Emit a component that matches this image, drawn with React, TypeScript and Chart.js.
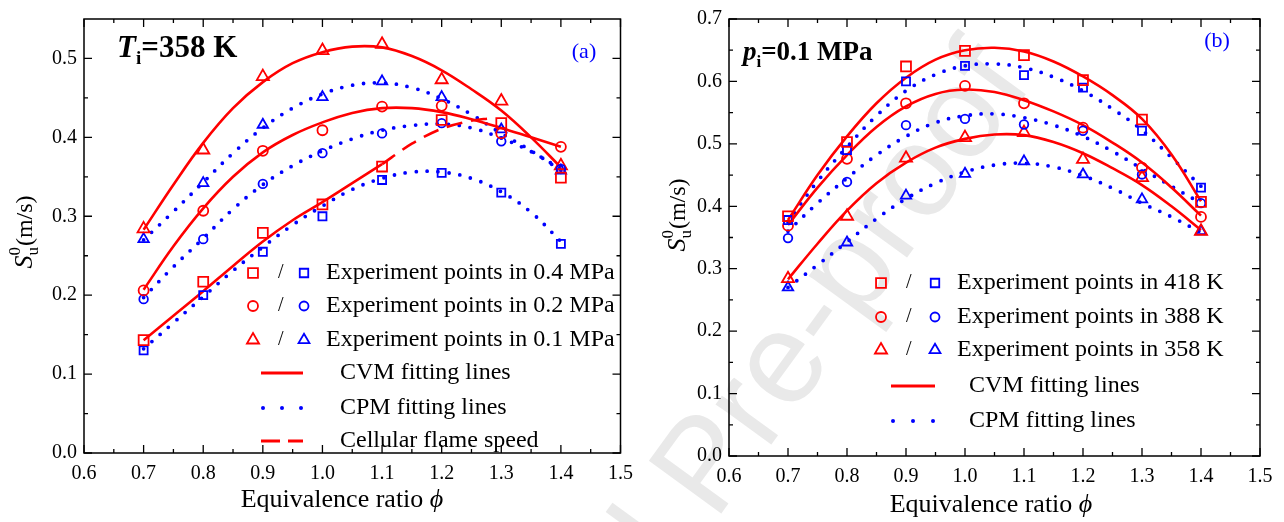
import React, { useEffect, useRef } from 'react';
import { Chart, registerables } from 'chart.js';

Chart.register(...registerables);

const SERIF = "'Liberation Serif', 'Times New Roman', Times, serif";
const RED = 'rgb(255,0,0)';
const BLUE = 'rgb(0,0,255)';

// ---------- shared x values ----------
const phiExp = [0.7, 0.8, 0.9, 1.0, 1.1, 1.2, 1.3, 1.4];
const phiFit = [0.7, 0.75, 0.8, 0.85, 0.9, 0.95, 1.0, 1.05, 1.1, 1.15, 1.2, 1.25, 1.3, 1.35, 1.4];
const phiFitLean = [0.7, 0.75, 0.8, 0.85, 0.9, 0.95, 1.0, 1.05, 1.1];
const phiCell = [1.1, 1.15, 1.2, 1.25, 1.28];

const xTicks = [0.6, 0.7, 0.8, 0.9, 1.0, 1.1, 1.2, 1.3, 1.4, 1.5];
const yTicksA = [0.0, 0.1, 0.2, 0.3, 0.4, 0.5];
const yTicksB = [0.0, 0.1, 0.2, 0.3, 0.4, 0.5, 0.6, 0.7];

// ---------- panel (a): Ti = 358 K ----------
const aExp04Red = [0.143, 0.217, 0.279, 0.315, 0.363, 0.422, 0.418, 0.349];
const aExp04Blue = [0.130, 0.200, 0.255, 0.300, 0.346, 0.355, 0.330, 0.265];
const aExp02Red = [0.206, 0.307, 0.383, 0.409, 0.439, 0.440, 0.405, 0.388];
const aExp02Blue = [0.195, 0.271, 0.341, 0.380, 0.405, 0.418, 0.395, 0.360];
const aExp01Red = [0.284, 0.384, 0.477, 0.510, 0.518, 0.473, 0.446, 0.364];
const aExp01Blue = [0.271, 0.342, 0.416, 0.451, 0.471, 0.451, 0.410, 0.358];

const aFit01Cvm = [0.283, 0.340, 0.393, 0.437, 0.470, 0.494, 0.508, 0.515, 0.514, 0.503, 0.485, 0.461, 0.434, 0.400, 0.362];
const aFit01Cpm = [0.270, 0.306, 0.343, 0.380, 0.412, 0.437, 0.455, 0.466, 0.469, 0.463, 0.449, 0.429, 0.405, 0.383, 0.358];
const aFit02Cvm = [0.207, 0.262, 0.310, 0.350, 0.381, 0.403, 0.419, 0.431, 0.437, 0.437, 0.432, 0.423, 0.412, 0.400, 0.388];
const aFit02Cpm = [0.197, 0.236, 0.272, 0.309, 0.340, 0.364, 0.383, 0.398, 0.409, 0.415, 0.417, 0.412, 0.399, 0.382, 0.360];
const aFit04Cvm = [0.143, 0.174, 0.205, 0.237, 0.268, 0.295, 0.318, 0.342, 0.366];
const aFit04Cpm = [0.132, 0.165, 0.198, 0.231, 0.261, 0.289, 0.313, 0.334, 0.348, 0.356, 0.356, 0.348, 0.331, 0.305, 0.268];
const aCell = [0.366, 0.392, 0.411, 0.421, 0.424];

// ---------- panel (b): pi = 0.1 MPa ----------
const bExp418Red = [0.384, 0.503, 0.624, 0.649, 0.642, 0.602, 0.539, 0.407];
const bExp418Blue = [0.378, 0.490, 0.600, 0.625, 0.610, 0.590, 0.521, 0.430];
const bExp388Red = [0.369, 0.476, 0.565, 0.593, 0.565, 0.526, 0.462, 0.383];
const bExp388Blue = [0.349, 0.439, 0.530, 0.540, 0.531, 0.521, 0.451, 0.405];
const bExp358Red = [0.284, 0.384, 0.477, 0.510, 0.518, 0.475, 0.446, 0.360];
const bExp358Blue = [0.270, 0.342, 0.417, 0.452, 0.472, 0.451, 0.411, 0.360];

const bFit418Cvm = [0.378, 0.450, 0.512, 0.565, 0.606, 0.635, 0.650, 0.654, 0.648, 0.632, 0.608, 0.578, 0.540, 0.483, 0.408];
const bFit418Cpm = [0.375, 0.440, 0.495, 0.545, 0.585, 0.611, 0.625, 0.628, 0.622, 0.607, 0.585, 0.556, 0.522, 0.478, 0.432];
const bFit388Cvm = [0.370, 0.430, 0.482, 0.527, 0.560, 0.580, 0.587, 0.583, 0.570, 0.552, 0.530, 0.502, 0.470, 0.430, 0.385];
const bFit388Cpm = [0.360, 0.405, 0.445, 0.482, 0.512, 0.534, 0.545, 0.548, 0.542, 0.530, 0.512, 0.488, 0.460, 0.432, 0.405];
const bFit358Cvm = [0.283, 0.340, 0.393, 0.437, 0.470, 0.494, 0.508, 0.515, 0.514, 0.503, 0.485, 0.461, 0.434, 0.400, 0.362];
const bFit358Cpm = [0.270, 0.306, 0.343, 0.380, 0.412, 0.437, 0.455, 0.466, 0.469, 0.463, 0.449, 0.429, 0.405, 0.383, 0.358];

const legendA = ['Experiment points in 0.4 MPa', 'Experiment points in 0.2 MPa', 'Experiment points in 0.1 MPa', 'CVM fitting lines', 'CPM fitting lines', 'Cellular flame speed'];
const legendB = ['Experiment points in 418 K', 'Experiment points in 388 K', 'Experiment points in 358 K', 'CVM fitting lines', 'CPM fitting lines'];

const zip = (xs: number[], ys: number[]) => xs.map((x, i) => ({ x, y: ys[i] }));

const pointSet = (ys: number[], style: string, color: string, r: number) => ({
  data: zip(phiExp, ys),
  showLine: false,
  pointStyle: style,
  pointRadius: r,
  pointBorderWidth: 1.8,
  pointBorderColor: color,
  pointBackgroundColor: 'rgba(0,0,0,0)',
  borderColor: color,
});
const cvm = (xs: number[], ys: number[]) => ({
  data: zip(xs, ys),
  showLine: true,
  borderColor: RED,
  borderWidth: 2.6,
  tension: 0.4,
  pointRadius: 0,
});
const cpm = (xs: number[], ys: number[]) => ({
  data: zip(xs, ys),
  showLine: true,
  borderColor: BLUE,
  borderWidth: 3.8,
  borderDash: [0, 11],
  borderCapStyle: 'round',
  tension: 0.4,
  pointRadius: 0,
});

function drawMarker(ctx: CanvasRenderingContext2D, style: string, x: number, y: number, r: number, color: string) {
  ctx.save();
  ctx.strokeStyle = color;
  ctx.lineWidth = 1.8;
  ctx.beginPath();
  if (style === 'rect') {
    const s = r * Math.SQRT1_2;
    ctx.rect(x - s, y - s, 2 * s, 2 * s);
  } else if (style === 'circle') {
    ctx.arc(x, y, r, 0, Math.PI * 2);
  } else {
    ctx.moveTo(x, y - r);
    ctx.lineTo(x + r * 0.866, y + r * 0.5);
    ctx.lineTo(x - r * 0.866, y + r * 0.5);
    ctx.closePath();
  }
  ctx.stroke();
  ctx.restore();
}

type PanelCfg = {
  yTicks: number[];
  yMax: number;
  top: number;
  rightPad: number;
  yWidth: number;
  xHeight: number;
  yTitle: { x: number; y: number };
  xTitle: { x: number; y: number };
  tag: { text: string; x: number; y: number };
  cond: { main: string; sub: string; rest: string; x: number; y: number; size: number };
  legendRows: string[];
  legendY: number[];
  legendX: { red: number; slash: number; blue: number; text: number; line0: number; line1: number; textLine: number };
};

function makePlugin(p: PanelCfg) {
  return {
    id: 'decor',
    afterDraw(chart: any) {
      const ctx: CanvasRenderingContext2D = chart.ctx;
      const a = chart.chartArea;
      const xs = chart.scales.x;
      const ys = chart.scales.y;
      ctx.save();
      // frame
      ctx.strokeStyle = '#000';
      ctx.lineWidth = 1.5;
      ctx.strokeRect(a.left, a.top, a.right - a.left, a.bottom - a.top);
      // ticks
      ctx.lineWidth = 1.3;
      ctx.beginPath();
      const xMaj = xTicks;
      const xMin: number[] = [];
      for (let i = 0; i < xMaj.length - 1; i++) xMin.push((xMaj[i] + xMaj[i + 1]) / 2);
      xMaj.forEach((v) => {
        const px = xs.getPixelForValue(v);
        ctx.moveTo(px, a.bottom); ctx.lineTo(px, a.bottom - 8);
        ctx.moveTo(px, a.top); ctx.lineTo(px, a.top + 8);
      });
      xMin.forEach((v) => {
        const px = xs.getPixelForValue(v);
        ctx.moveTo(px, a.bottom); ctx.lineTo(px, a.bottom - 4);
        ctx.moveTo(px, a.top); ctx.lineTo(px, a.top + 4);
      });
      const yMin: number[] = [];
      for (let i = 0; i < p.yTicks.length - 1; i++) yMin.push((p.yTicks[i] + p.yTicks[i + 1]) / 2);
      p.yTicks.forEach((v) => {
        const py = ys.getPixelForValue(v);
        ctx.moveTo(a.left, py); ctx.lineTo(a.left + 8, py);
        ctx.moveTo(a.right, py); ctx.lineTo(a.right - 8, py);
      });
      yMin.forEach((v) => {
        const py = ys.getPixelForValue(v);
        ctx.moveTo(a.left, py); ctx.lineTo(a.left + 4, py);
        ctx.moveTo(a.right, py); ctx.lineTo(a.right - 4, py);
      });
      ctx.stroke();

      // x title
      ctx.fillStyle = '#000';
      ctx.textBaseline = 'alphabetic';
      ctx.font = `26px ${SERIF}`;
      const t1 = 'Equivalence ratio ';
      const w1 = ctx.measureText(t1).width;
      ctx.font = `italic 26px ${SERIF}`;
      const w2 = ctx.measureText('ϕ').width;
      const sx = p.xTitle.x - (w1 + w2) / 2;
      ctx.font = `26px ${SERIF}`;
      ctx.fillText(t1, sx, p.xTitle.y);
      ctx.font = `italic 26px ${SERIF}`;
      ctx.fillText('ϕ', sx + w1, p.xTitle.y);

      // y title
      ctx.save();
      ctx.translate(p.yTitle.x, p.yTitle.y);
      ctx.rotate(-Math.PI / 2);
      ctx.font = `italic 26px ${SERIF}`;
      const wS = ctx.measureText('S').width;
      ctx.font = `17px ${SERIF}`;
      const wSub = ctx.measureText('u').width;
      ctx.font = `24px ${SERIF}`;
      const wRest = ctx.measureText('(m/s)').width;
      const total = wS + wSub + 1 + wRest;
      let cx = -total / 2;
      ctx.font = `italic 26px ${SERIF}`;
      ctx.fillText('S', cx, 0);
      cx += wS;
      ctx.font = `17px ${SERIF}`;
      ctx.fillText('u', cx, 6);
      ctx.fillText('0', cx, -12);
      cx += wSub + 1;
      ctx.font = `24px ${SERIF}`;
      ctx.fillText('(m/s)', cx, 0);
      ctx.restore();

      // condition label
      const c = p.cond;
      let lx = c.x;
      ctx.font = `italic bold ${c.size}px ${SERIF}`;
      ctx.fillText(c.main, lx, c.y);
      lx += ctx.measureText(c.main).width;
      ctx.font = `bold ${Math.round(c.size * 0.62)}px ${SERIF}`;
      ctx.fillText(c.sub, lx, c.y + 7);
      lx += ctx.measureText(c.sub).width;
      ctx.font = `bold ${c.size}px ${SERIF}`;
      ctx.fillText(c.rest, lx, c.y);

      // panel tag
      ctx.fillStyle = BLUE;
      ctx.font = `22px ${SERIF}`;
      ctx.textAlign = 'center';
      ctx.textBaseline = 'middle';
      ctx.fillText(p.tag.text, p.tag.x, p.tag.y);

      // legend
      const L = p.legendX;
      const styles = ['rect', 'circle', 'triangle'];
      const radR = [7, 5, 7];
      const radB = [6, 4.5, 6.3];
      ctx.textAlign = 'left';
      ctx.textBaseline = 'middle';
      p.legendRows.forEach((label, i) => {
        const y = p.legendY[i];
        if (i < 3) {
          drawMarker(ctx, styles[i], L.red, y, radR[i], RED);
          ctx.fillStyle = '#000';
          ctx.font = `20px ${SERIF}`;
          ctx.fillText('/', L.slash - 3, y);
          drawMarker(ctx, styles[i], L.blue, y, radB[i], BLUE);
          ctx.fillStyle = '#000';
          ctx.font = `24px ${SERIF}`;
          ctx.fillText(label, L.text, y);
        } else {
          ctx.save();
          if (i === 3) {
            ctx.strokeStyle = RED; ctx.lineWidth = 2.8;
            ctx.beginPath(); ctx.moveTo(L.line0, y); ctx.lineTo(L.line1, y); ctx.stroke();
          } else if (i === 4) {
            ctx.fillStyle = BLUE;
            [0, 0.5, 1].forEach((f) => {
              ctx.beginPath();
              ctx.arc(L.line0 + 2 + f * (L.line1 - L.line0 - 4), y, 2, 0, Math.PI * 2);
              ctx.fill();
            });
          } else {
            ctx.strokeStyle = RED; ctx.lineWidth = 2.8;
            ctx.setLineDash([19, 8]);
            ctx.beginPath(); ctx.moveTo(L.line0, y); ctx.lineTo(L.line1, y); ctx.stroke();
          }
          ctx.restore();
          ctx.fillStyle = '#000';
          ctx.font = `24px ${SERIF}`;
          ctx.fillText(label, L.textLine, y);
        }
      });
      ctx.restore();
    },
  };
}

function makeConfig(datasets: any[], p: PanelCfg) {
  return {
    type: 'scatter',
    data: { datasets },
    options: {
      responsive: false,
      animation: false,
      events: [],
      layout: { padding: { top: p.top, right: p.rightPad, left: 0, bottom: 0 } },
      plugins: { legend: { display: false }, tooltip: { enabled: false }, title: { display: false } },
      scales: {
        x: {
          type: 'linear',
          min: 0.6,
          max: 1.5,
          afterFit: (s: any) => { s.height = p.xHeight; },
          afterBuildTicks: (s: any) => { s.ticks = xTicks.map((v) => ({ value: v })); },
          ticks: {
            autoSkip: false,
            maxRotation: 0,
            padding: 9,
            color: '#000',
            font: { family: SERIF, size: 20 },
            callback: (v: any) => Number(v).toFixed(1),
          },
          grid: { display: false, drawTicks: false },
          border: { display: false },
        },
        y: {
          type: 'linear',
          min: 0,
          max: p.yMax,
          afterFit: (s: any) => { s.width = p.yWidth; },
          afterBuildTicks: (s: any) => { s.ticks = p.yTicks.map((v) => ({ value: v })); },
          ticks: {
            autoSkip: false,
            padding: 7,
            color: '#000',
            font: { family: SERIF, size: 20 },
            callback: (v: any) => Number(v).toFixed(1),
          },
          grid: { display: false, drawTicks: false },
          border: { display: false },
        },
      },
    },
    plugins: [makePlugin(p)],
  };
}

const panelA: PanelCfg = {
  yTicks: yTicksA,
  yMax: 0.55,
  top: 18,
  rightPad: 16,
  yWidth: 84,
  xHeight: 69,
  yTitle: { x: 32, y: 232 },
  xTitle: { x: 342, y: 507 },
  tag: { text: '(a)', x: 584, y: 52 },
  cond: { main: 'T', sub: 'i', rest: '=358 K', x: 117, y: 57, size: 31 },
  legendRows: legendA,
  legendY: [273, 306, 340, 373, 408, 441],
  legendX: { red: 253, slash: 281, blue: 304, text: 326, line0: 261, line1: 303, textLine: 340 },
};

const panelB: PanelCfg = {
  yTicks: yTicksB,
  yMax: 0.7,
  top: 14,
  rightPad: 24,
  yWidth: 87,
  xHeight: 66,
  yTitle: { x: 43, y: 215 },
  xTitle: { x: 349, y: 512 },
  tag: { text: '(b)', x: 575, y: 41 },
  cond: { main: 'p', sub: 'i', rest: '=0.1 MPa', x: 101, y: 60, size: 27 },
  legendRows: legendB,
  legendY: [283, 317, 350, 386, 421],
  legendX: { red: 239, slash: 267, blue: 293, text: 315, line0: 249, line1: 293, textLine: 327 },
};

function ChartPanel({ left, datasets, panel }: { left: number; datasets: any[]; panel: PanelCfg }) {
  const ref = useRef<HTMLCanvasElement | null>(null);
  useEffect(() => {
    if (!ref.current) return;
    const chart = new Chart(ref.current, makeConfig(datasets, panel) as any);
    return () => chart.destroy();
  }, []);
  return (
    <canvas
      ref={ref}
      width={642}
      height={522}
      style={{ position: 'absolute', left, top: 0, width: 642, height: 522 }}
    />
  );
}

function Watermark() {
  const ref = useRef<HTMLCanvasElement | null>(null);
  useEffect(() => {
    const c = ref.current;
    if (!c) return;
    const ctx = c.getContext('2d');
    if (!ctx) return;
    ctx.clearRect(0, 0, 1284, 522);
    ctx.save();
    ctx.translate(715, 522);
    ctx.rotate(-54 * Math.PI / 180);
    ctx.font = "130px 'Liberation Sans', Arial, sans-serif";
    ctx.fillStyle = 'rgb(233,233,233)';
    ctx.textBaseline = 'alphabetic';
    ctx.textAlign = 'right';
    ctx.fillText('Journal ', 0, 0);
    ctx.textAlign = 'left';
    ctx.fillText('Pre-proof', 0, 0);
    ctx.restore();
  }, []);
  return <canvas ref={ref} width={1284} height={522} style={{ position: 'absolute', left: 0, top: 0 }} />;
}

export default function App() {
  const dsA = [
    pointSet(aExp04Red, 'rect', RED, 7),
    pointSet(aExp04Blue, 'rect', BLUE, 5.7),
    pointSet(aExp02Red, 'circle', RED, 5),
    pointSet(aExp02Blue, 'circle', BLUE, 4.3),
    pointSet(aExp01Red, 'triangle', RED, 7),
    pointSet(aExp01Blue, 'triangle', BLUE, 6),
    cvm(phiFit, aFit01Cvm),
    cvm(phiFit, aFit02Cvm),
    cvm(phiFitLean, aFit04Cvm),
    { ...cvm(phiCell, aCell), borderDash: [16, 9], tension: 0.3 },
    cpm(phiFit, aFit01Cpm),
    cpm(phiFit, aFit02Cpm),
    cpm(phiFit, aFit04Cpm),
  ];
  const dsB = [
    pointSet(bExp418Red, 'rect', RED, 7),
    pointSet(bExp418Blue, 'rect', BLUE, 5.7),
    pointSet(bExp388Red, 'circle', RED, 5),
    pointSet(bExp388Blue, 'circle', BLUE, 4.3),
    pointSet(bExp358Red, 'triangle', RED, 7),
    pointSet(bExp358Blue, 'triangle', BLUE, 6),
    cvm(phiFit, bFit418Cvm),
    cvm(phiFit, bFit388Cvm),
    cvm(phiFit, bFit358Cvm),
    cpm(phiFit, bFit418Cpm),
    cpm(phiFit, bFit388Cpm),
    cpm(phiFit, bFit358Cpm),
  ];
  return (
    <div style={{ position: 'fixed', left: 0, top: 0, width: 1284, height: 522, background: '#fff', overflow: 'hidden' }}>
      <Watermark />
      <ChartPanel left={0} datasets={dsA} panel={panelA} />
      <ChartPanel left={642} datasets={dsB} panel={panelB} />
    </div>
  );
}
